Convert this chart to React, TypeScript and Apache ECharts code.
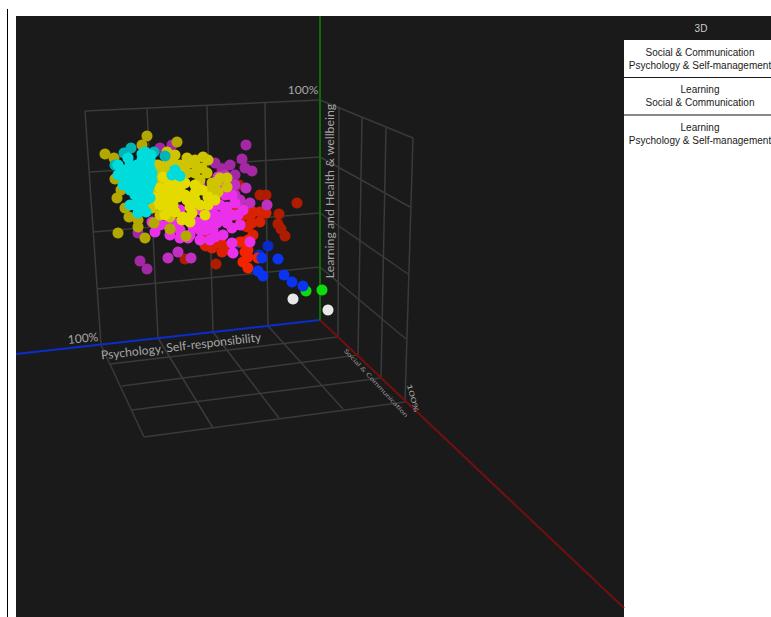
import React, { useEffect, useRef } from "react";
import * as echarts from "echarts";

// Projected positions of the 3D points.
const yellowFar = [[147,136],[142,145],[177,142],[105,154],[114,158],[115,179],[117,198],[118,233],[129,217],[138,220],[138,227],[145,238],[154,223],[186,236],[170,229],[121,190],[125,208]];
const yellowMid = [[158,165],[167,152],[173,162],[187,158],[203,157],[208,160],[195,173],[207,173],[227,178],[220,178],[212,183],[227,187],[218,192],[190,163],[180,165],[167,163],[160,170],[163,177],[187,173],[158,180],[202,168],[217,182],[177,168],[197,167],[152,208],[160,215],[170,217],[175,155],[195,160],[165,170],[172,183],[155,190],[183,170],[200,180],[210,190],[155,165],[157,200],[150,195]];
const yellowNear = [[208,197],[195,193],[180,188],[168,185],[160,188],[162,197],[167,207],[183,217],[192,213],[205,215],[187,200],[208,205],[195,200],[178,197],[195,185],[180,177],[173,175],[165,190],[173,205],[182,220],[190,222],[170,197],[163,203],[155,198],[163,177],[175,185],[185,195],[200,205],[175,212],[165,215],[190,207],[202,190],[215,200],[185,183],[160,205],[172,190]];
const cyanFar = [[131,148],[124,153],[154,152],[165,156],[115,165]];
const cyanNear = [[142,154],[151,155],[147,163],[137,165],[123,170],[130,165],[152,173],[135,177],[147,177],[123,185],[130,190],[140,185],[150,185],[145,193],[135,195],[148,198],[130,205],[143,205],[138,213],[140,200],[128,180],[118,175],[148,190],[140,170],[175,170],[180,176],[172,175],[125,177],[142,160],[135,187],[150,168],[130,172],[142,178],[152,180],[135,205],[145,170],[150,198],[140,193],[150,160],[128,158],[118,165],[146,212],[145,152]];
const magentaFar = [[246,145],[242,159],[245,168],[252,171],[230,165],[235,175],[222,169],[215,163],[160,148],[172,145],[140,261],[147,269],[138,233]];
const magentaMid = [[246,188],[250,203],[168,258],[178,252],[191,258],[235,195],[240,200],[267,205],[235,185],[225,175]];
const magentaNear = [[213,230],[200,240],[232,228],[223,235],[215,237],[205,230],[218,217],[232,215],[227,207],[235,203],[220,205],[208,222],[193,227],[180,230],[168,225],[175,223],[152,222],[232,243],[250,242],[233,253],[217,223],[227,223],[197,222],[188,238],[223,220],[212,210],[200,210],[180,210],[160,225],[218,177],[223,185],[200,185],[190,235],[205,222],[215,215],[225,195],[232,195],[238,215],[243,210],[240,225],[225,212],[210,240],[200,230],[170,235],[180,238],[155,232],[225,190]];
const redFar = [[297,203],[266,195],[260,195],[239,185],[216,264],[185,259],[231,178],[279,214],[278,224],[281,229],[285,236]];
const redMid = [[260,212],[253,212],[266,213],[260,222],[252,223],[245,226],[248,227],[253,235],[206,246],[222,245],[222,252],[215,242],[247,205],[242,205],[205,245],[223,245],[213,242],[195,228],[212,248],[218,238],[205,235],[228,250],[250,216],[235,212],[230,195],[240,218]];
const redNear = [[242,242],[248,240],[248,257],[248,250],[258,258],[248,268],[243,262],[240,242],[245,252]];
const blueFar = [[268,246],[238,243],[259,255]];
const blueNear = [[262,258],[278,259],[258,271],[263,276],[284,275],[292,282],[303,286]];
const greenDots = [[306,291],[322,290]];
const whiteDots = [[293,299],[328,310]];

const seriesList: [string, number[][], string][] = [
  ["Red far", redFar, "#b01c00"],
  ["Blue far", blueFar, "#0a2ac8"],
  ["Red mid", redMid, "#d82200"],
  ["Red near", redNear, "#f22400"],
  ["Green", greenDots, "#0cdc0c"],
  ["Blue near", blueNear, "#0a34f0"],
  ["White", whiteDots, "#e8e8e8"],
  ["Magenta far", magentaFar, "#a428a4"],
  ["Magenta mid", magentaMid, "#c030c0"],
  ["Magenta near", magentaNear, "#ea30ea"],
  ["Yellow far", yellowFar, "#b3a800"],
  ["Yellow mid", yellowMid, "#cfc400"],
  ["Yellow near", yellowNear, "#e4da00"],
  ["Cyan far", cyanFar, "#00b4b8"],
  ["Cyan near", cyanNear, "#00dcdc"],
];

const sideTitle = "3D";
const sideCells = [
  ["Social & Communication", "Psychology & Self-management"],
  ["Learning", "Social & Communication"],
  ["Learning", "Psychology & Self-management"],
];
const axisTexts = {
  x: "Psychology, Self-responsibility",
  y: "Learning and Health & wellbeing",
  z: "Social & Communication",
  max: "100%",
};

const gridSegments = [
  // back wall
  [85,111,320,100],[90,172,320,157],[93,232,320,213],[97,289,320,267],
  [85,111,101,345],[147,108,158,338],[207,105,213,332],[265,103,268,326],
  // floor
  [110,364,338,337],[122,386,358,355],[132,410,381,378],[144,437,405,402],
  [101,345,144,437],[158,338,213,428],[213,332,279,418],[268,326,343,409],
  // side wall
  [320,100,413,138],[320,157,410,207],[320,213,408,274],[320,267,406,339],
  [413,138,405,402],[339,108,338,337],[362,118,358,355],[386,128,381,378],
];

export default function App() {
  const ref = useRef<HTMLDivElement>(null);
  useEffect(() => {
    const chart = echarts.init(ref.current!, null, { renderer: "svg" });
    const font = "Lato";
    const line = (s: number[], color: string, w: number) => ({
      type: "line",
      silent: true,
      shape: { x1: s[0], y1: s[1], x2: s[2], y2: s[3] },
      style: { stroke: color, lineWidth: w },
    });
    const axisLabel = (text: string, x: number, y: number, deg: number, size: number, fill = "#a6a6a6", sx = 1, sy = 1) => ({
      type: "text",
      x,
      y,
      rotation: (deg * Math.PI) / 180,
      scaleX: sx,
      scaleY: sy,
      style: { text, fill, font: `${size}px ${font}`, textAlign: "center", textVerticalAlign: "middle" },
    });
    const cellTexts: any[] = [];
    const cellTops = [41, 78, 116];
    sideCells.forEach((cell, i) => {
      cell.forEach((t, j) => {
        cellTexts.push({
          type: "text",
          x: 700,
          y: cellTops[i] + 11 + j * 13,
          style: { text: t, fill: "#1a1a1a", font: "10px 'Liberation Sans'", textAlign: "center", textVerticalAlign: "middle" },
        });
      });
    });
    chart.setOption({
      animation: false,
      backgroundColor: "#ffffff",
      grid: { left: 0, top: 0, width: 771, height: 617 },
      xAxis: { type: "value", min: 0, max: 771, show: false },
      yAxis: { type: "value", min: 0, max: 617, inverse: true, show: false },
      series: seriesList.map(([name, data, color]) => ({
        name,
        type: "scatter",
        data,
        symbolSize: 11,
        itemStyle: { color, opacity: 1 },
      })),
      graphic: {
        elements: [
          { type: "rect", shape: { x: 7, y: 9, width: 1, height: 608 }, style: { fill: "#000" } },
          { type: "rect", shape: { x: 16, y: 16, width: 755, height: 601 }, style: { fill: "#1a1a1a" } },
          { type: "rect", shape: { x: 624, y: 40, width: 147, height: 577 }, style: { fill: "#ffffff" } },
          { type: "rect", shape: { x: 624, y: 77, width: 147, height: 1 }, style: { fill: "#1a1a1a" } },
          { type: "rect", shape: { x: 624, y: 114, width: 147, height: 2 }, style: { fill: "#888888" } },
          { type: "text", x: 701, y: 28, style: { text: sideTitle, fill: "#cccccc", font: "10px 'Liberation Sans'", textAlign: "center", textVerticalAlign: "middle" } },
          ...cellTexts,
          ...gridSegments.map((s) => line(s, "#3a3a3a", 1.5)),
          line([16, 354, 320, 320], "#0a2ecc", 2),
          line([320, 16, 320, 320], "#0a6e0a", 2),
          line([320, 320, 624, 608], "#701010", 2),
          axisLabel(axisTexts.x, 181, 346, 6.5, 12.2),
          axisLabel(axisTexts.y, 329, 191, 90, 12.3),
          axisLabel(axisTexts.max, 83, 338, 6, 12),
          axisLabel(axisTexts.max, 303, 89, 0, 12),
          axisLabel(axisTexts.z, 376, 383, -47, 10, "#989898", 0.85, 0.6),
          axisLabel(axisTexts.max, 413, 398, -75, 11.5, "#a6a6a6", 1, 0.6),
        ],
      },
    });
    return () => chart.dispose();
  }, []);
  return <div ref={ref} style={{ position: "fixed", left: 0, top: 0, width: 771, height: 617 }} />;
}
